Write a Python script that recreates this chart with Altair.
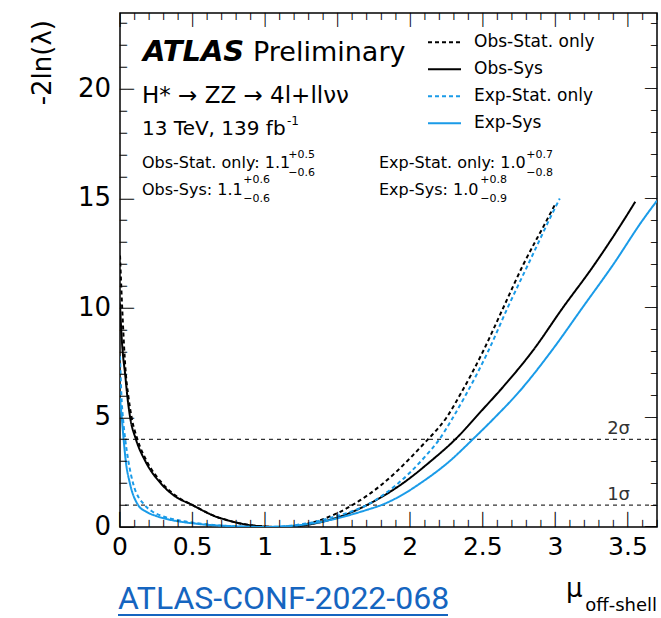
import altair as alt
import numpy as np
import pandas as pd

# Profile likelihood scans of mu_off-shell (-2 ln lambda)
obs_stat_mu = [0.000, 0.015, 0.040, 0.057, 0.080, 0.120, 0.185, 0.290, 0.390, 0.500, 0.580,
               0.660, 0.740, 0.820, 0.900, 1.000, 1.100, 1.200, 1.300, 1.400, 1.500, 1.600,
               1.700, 1.800, 1.900, 2.000, 2.100, 2.150, 2.250, 2.340, 2.500, 2.640, 2.780,
               2.940, 2.995]
obs_stat_nll = [12.4, 10.0, 7.0, 6.0, 5.0, 4.0, 3.0, 2.0, 1.4, 1.0, 0.72,
                0.48, 0.31, 0.17, 0.08, 0.02, 0.0, 0.04, 0.16, 0.36, 0.64, 1.0,
                1.42, 1.92, 2.5, 3.15, 3.85, 4.2, 5.0, 6.0, 8.0, 10.0, 12.0,
                14.0, 14.7]

obs_sys_mu = [0.000, 0.010, 0.020, 0.035, 0.050, 0.070, 0.110, 0.175, 0.280, 0.380, 0.500,
              0.580, 0.650, 0.730, 0.810, 0.900, 1.000, 1.100, 1.200, 1.300, 1.400, 1.500,
              1.600, 1.700, 1.800, 1.960, 2.140, 2.310, 2.490, 2.640, 2.850, 3.050, 3.260,
              3.470, 3.550]
obs_sys_nll = [10.2, 8.8, 7.9, 7.0, 6.0, 5.0, 4.0, 3.0, 2.0, 1.4, 1.0,
               0.72, 0.5, 0.33, 0.19, 0.08, 0.02, 0.0, 0.03, 0.11, 0.25, 0.44,
               0.69, 1.0, 1.36, 2.05, 3.0, 4.0, 5.3, 6.4, 8.1, 10.0, 11.9,
               14.0, 14.85]

exp_stat_mu = [0.000, 0.006, 0.012, 0.020, 0.036, 0.058, 0.090, 0.170, 0.220, 0.290, 0.370,
               0.460, 0.560, 0.660, 0.760, 0.860, 1.000, 1.100, 1.200, 1.300, 1.400, 1.500,
               1.600, 1.700, 1.800, 1.900, 2.000, 2.100, 2.200, 2.290, 2.380, 2.535, 2.670,
               2.820, 2.970, 3.030]
exp_stat_nll = [7.8, 6.6, 5.7, 5.0, 4.0, 3.0, 2.0, 1.0, 0.72, 0.5, 0.35,
                0.24, 0.15, 0.08, 0.04, 0.01, 0.0, 0.02, 0.08, 0.18, 0.33, 0.51,
                0.72, 1.0, 1.4, 1.9, 2.5, 3.2, 4.0, 4.95, 6.0, 8.0, 10.0,
                12.1, 14.2, 15.0]

exp_sys_mu = [0.000, 0.005, 0.012, 0.025, 0.040, 0.068, 0.125, 0.180, 0.250, 0.330, 0.410,
              0.500, 0.600, 0.700, 0.800, 0.900, 1.000, 1.100, 1.200, 1.300, 1.400, 1.500,
              1.600, 1.700, 1.800, 1.940, 2.070, 2.270, 2.430, 2.590, 2.740, 2.980, 3.190,
              3.400, 3.600, 3.700]
exp_sys_nll = [5.9, 5.5, 5.0, 4.0, 3.0, 2.0, 1.0, 0.7, 0.5, 0.35, 0.25,
               0.17, 0.1, 0.06, 0.03, 0.01, 0.0, 0.02, 0.06, 0.14, 0.25, 0.4,
               0.58, 0.78, 1.0, 1.45, 2.0, 3.0, 4.0, 5.05, 6.1, 8.1, 10.05,
               12.0, 14.0, 14.9]

series_names = ["Obs-Stat. only", "Obs-Sys", "Exp-Stat. only", "Exp-Sys"]
series_colors = ["#000000", "#000000", "#1a9be8", "#1a9be8"]
series_dashes = [[4, 3], [1, 0], [4, 3], [1, 0]]

sigma_levels = [1, 4]
sigma_labels = ["1σ", "2σ"]

x_major = [0, 0.5, 1, 1.5, 2, 2.5, 3, 3.5]
x_major_labels = ["0", "0.5", "1", "1.5", "2", "2.5", "3", "3.5"]
y_major = [0, 5, 10, 15, 20]
y_major_labels = ["0", "5", "10", "15", "20"]

W, H = 537, 514
X_MAX, Y_MAX = 3.7, 23.47
FONT = "DejaVu Sans"
MONO = "DejaVu Sans Mono"

frames = []
for name, mu, nll in [(series_names[0], obs_stat_mu, obs_stat_nll),
                      (series_names[1], obs_sys_mu, obs_sys_nll),
                      (series_names[2], exp_stat_mu, exp_stat_nll),
                      (series_names[3], exp_sys_mu, exp_sys_nll)]:
    frames.append(pd.DataFrame({"series": name, "mu": mu, "nll": nll}))
curves = pd.concat(frames, ignore_index=True)

xs = alt.Scale(domain=[0, X_MAX], nice=False, zero=False)
ys = alt.Scale(domain=[0, Y_MAX], nice=False, zero=False)

legend = alt.Legend(title=None, orient="none", legendX=307, legendY=16,
                    symbolType="stroke", symbolSize=1089, symbolStrokeWidth=2,
                    labelFont=FONT, labelFontSize=17, labelColor="black",
                    labelOffset=12, clipHeight=26.5, rowPadding=0, padding=0)

# 1 sigma / 2 sigma reference lines
sigma_df = pd.DataFrame({"level": sigma_levels, "lab": sigma_labels})
sigma_lines = alt.Chart(sigma_df).mark_rule(
    color="#333333", strokeWidth=1.4, strokeDash=[4, 4]
).encode(y=alt.Y("level:Q", scale=ys, axis=None))
sigma_text = alt.Chart(sigma_df).mark_text(
    align="right", baseline="alphabetic", dy=-5, font=FONT, fontSize=18, color="#333333"
).encode(y=alt.Y("level:Q", scale=ys, axis=None), x=alt.value(510), text="lab:N")

lines = alt.Chart(curves).mark_line(strokeWidth=2, interpolate="monotone", clip=True).encode(
    x=alt.X("mu:Q", scale=xs, axis=None),
    y=alt.Y("nll:Q", scale=ys, axis=None),
    color=alt.Color("series:N", sort=series_names,
                    scale=alt.Scale(domain=series_names, range=series_colors), legend=legend),
    strokeDash=alt.StrokeDash("series:N", sort=series_names,
                              scale=alt.Scale(domain=series_names, range=series_dashes),
                              legend=legend),
    order=alt.Order("mu:Q"),
)

# tick labels
xlab = alt.Chart(pd.DataFrame({"v": x_major, "t": x_major_labels})).mark_text(
    align="center", baseline="top", font=FONT, fontSize=25, color="black"
).encode(x=alt.X("v:Q", scale=xs, axis=None), y=alt.value(H + 8), text="t:N")
ylab = alt.Chart(pd.DataFrame({"v": y_major, "t": y_major_labels})).mark_text(
    align="right", baseline="middle", font=FONT, fontSize=26, color="black"
).encode(y=alt.Y("v:Q", scale=ys, axis=None), x=alt.value(-9), text="t:N")

# inward ROOT-style ticks, drawn with box-drawing glyphs placed through the scales
y_all = list(range(0, 24))
y_minor = [v for v in y_all if v % 5 != 0]
x_all = [float(round(v, 1)) for v in np.arange(0, 3.71, 0.1)]
x_minor = [v for v in x_all if round(v * 10) % 5 != 0]


def hticks(vals, glyph, size, x, align):
    # horizontal stroke of the glyph sits 0.346 em above its baseline
    return alt.Chart(pd.DataFrame({"pos": vals, "g": glyph})).mark_text(
        font=MONO, fontSize=size, align=align, baseline="alphabetic",
        dy=0.346 * size, color="black"
    ).encode(y=alt.Y("pos:Q", scale=ys, axis=None), x=alt.value(x), text="g:N")


def vticks(vals, glyph, size, y):
    return alt.Chart(pd.DataFrame({"pos": vals, "g": glyph})).mark_text(
        font=MONO, fontSize=size, align="center", baseline="alphabetic", color="black"
    ).encode(x=alt.X("pos:Q", scale=xs, axis=None), y=alt.value(y), text="g:N")


ticks = [
    hticks(y_major, "──", 11.6, 0, "left"),
    hticks(y_minor, "─", 11.6, 0, "left"),
    hticks(y_major, "──", 10, W, "right"),
    hticks(y_minor, "─", 10, W, "right"),
    vticks(x_major, "│", 13, H - 0.236 * 13),
    vticks(x_minor, "╵", 12, H + 0.346 * 12),
    vticks(x_major, "│", 12, 0.928 * 12),
    vticks(x_minor, "╷", 12, 0.346 * 12),
]


def label(text, x, y, size, align="left", weight="normal", style="normal",
          font=FONT, color="black", angle=0, baseline="alphabetic"):
    return alt.Chart(pd.DataFrame({"t": [text]})).mark_text(
        align=align, baseline=baseline, font=font, fontSize=size, fontWeight=weight,
        fontStyle=style, color=color, angle=angle
    ).encode(text="t:N", x=alt.value(x), y=alt.value(y))


texts = [
    label("ATLAS", 23, 48, 29, weight="bold", style="italic"),
    label("Preliminary", 133, 48, 27),
    label("H* → ZZ → 4l+llνν", 22, 89.5, 23),
    label("13 TeV, 139 fb", 22, 122, 20),
    label("-1", 167, 112, 12),
    label("Obs-Stat. only: 1.1", 22, 155, 16),
    label("+0.5", 195, 145, 11, align="right"),
    label("−0.6", 195, 163, 11, align="right"),
    label("Obs-Sys: 1.1", 22, 182, 16),
    label("+0.6", 150, 170, 11, align="right"),
    label("−0.6", 150, 189, 11, align="right"),
    label("Exp-Stat. only: 1.0", 259, 155, 16),
    label("+0.7", 433, 145, 11, align="right"),
    label("−0.8", 433, 163, 11, align="right"),
    label("Exp-Sys: 1.0", 259, 182, 16),
    label("+0.8", 387, 170, 11, align="right"),
    label("−0.9", 387, 189, 11, align="right"),
    # axis titles
    label("-2ln(λ)", -77, 7, 26, align="right", angle=270, baseline="middle"),
    label("μ", 446, 584, 26),
    label("off-shell", 537, 598, 18, align="right"),
    # reference note
    label("ATLAS-CONF-2022-068", -2, 596, 32, font="Roboto", color="#1565c0"),
]

underline = alt.Chart(pd.DataFrame({"t": [0]})).mark_rule(color="#1565c0", strokeWidth=2).encode(
    x=alt.value(-2), x2=alt.value(328), y=alt.value(602))

chart = alt.layer(
    sigma_lines, lines, sigma_text, xlab, ylab, *ticks, *texts, underline
).properties(
    width=W, height=H,
    padding={"left": 120, "top": 13, "right": 4, "bottom": 91},
    autosize="none",
).configure_view(stroke="black", strokeWidth=1.5)

chart.save("out.html", embed_options={"renderer": "svg", "actions": False})
